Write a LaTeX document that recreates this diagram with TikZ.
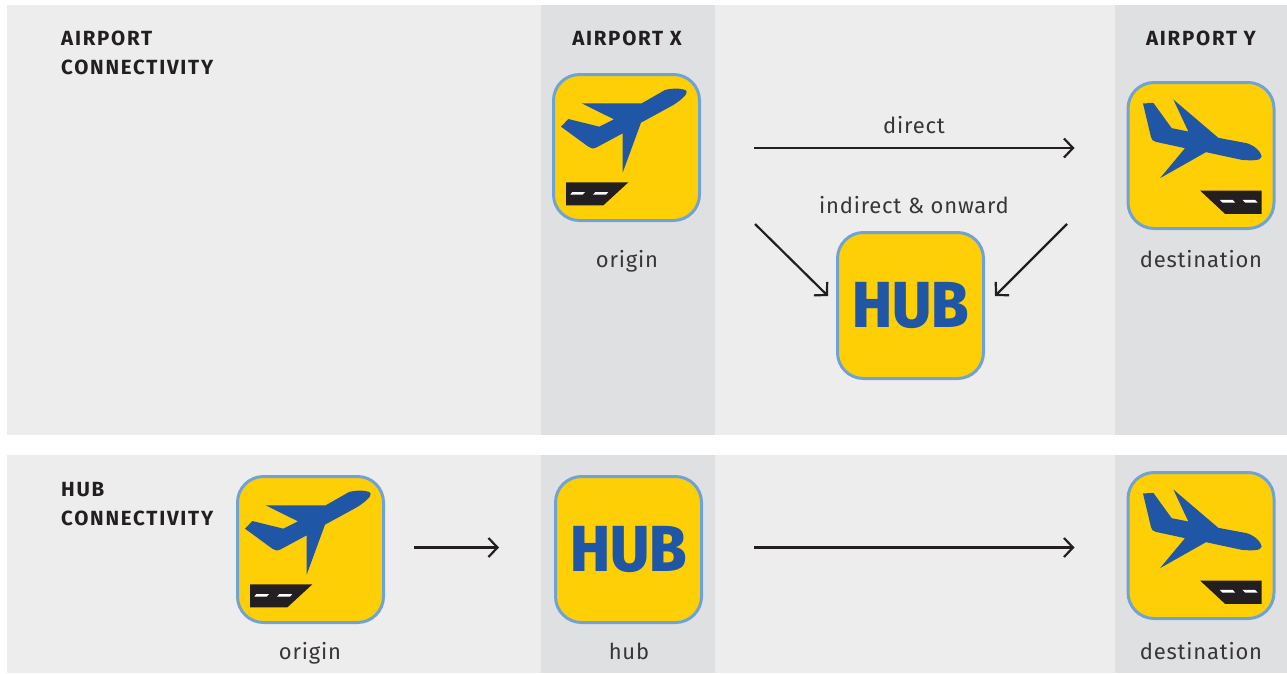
\documentclass[tikz,border=0pt]{standalone}
\usepackage{fontspec}
\setmainfont{Fira Sans}[LetterSpace=3.6]
\newfontfamily\titlefont{Fira Sans}[LetterSpace=8.5]
\newfontfamily\hubfont{Fira Sans}[UprightFont=*,BoldFont=* ExtraBold]
\usetikzlibrary{arrows.meta}
\definecolor{panel}{HTML}{EDEDED}
\definecolor{column}{HTML}{DFE0E2}
\definecolor{iconfill}{HTML}{FFCF06}
\definecolor{iconline}{HTML}{6FA3D8}
\definecolor{planeblue}{HTML}{1F56A5}
\definecolor{ink}{HTML}{231F20}
\tikzset{
  iconbox/.style={draw=iconline,fill=iconfill,line width=3pt,rounded corners=26pt,minimum size=146pt,inner sep=0pt,outer sep=0pt},
  hubicon/.style={iconbox,text=planeblue,font=\hubfont\fontsize{65}{65}\selectfont\bfseries},
  flow/.style={draw=ink,line width=2.2pt,-{Straight Barb[length=9pt,width=19pt,line width=2.2pt]}},
  title/.style={font=\titlefont\bfseries\fontsize{20.5}{29}\selectfont,text=ink,inner sep=0pt},
  caption/.style={font=\fontsize{22}{26}\selectfont,text=ink!90,inner sep=0pt,anchor=base},
  takeoff/.pic={
    \begin{scope}[x=0.33333pt,y=-0.33333pt,shift={(-259.5,-262.5)}]
      \fill[planeblue] (440,95) .. controls (438,85) and (400,83) .. (375,90) -- (305,130) -- (125,130) -- (222,178) -- (178,200) -- (85,177) -- (63,200) -- (145,260) .. controls (152,266) and (160,267) .. (170,262) -- (248,220) -- (248,338) -- (303,188) -- (400,135) .. controls (420,122) and (442,105) .. (440,95) -- cycle;
      \fill[ink] (78,367) -- (265,367) -- (190,436) -- (78,436) -- cycle;
      \fill[white] (97,396) -- (135,396) -- (128,404) -- (91,404) -- cycle;
      \fill[white] (166,396) -- (205,396) -- (198,404) -- (159,404) -- cycle;
    \end{scope}
  },
  landing/.pic={
    \begin{scope}[x=0.33333pt,y=-0.33333pt,shift={(-258,-255)}]
      \fill[planeblue] (440,258) .. controls (438,245) and (420,225) .. (395,218) -- (310,202) -- (175,87) -- (220,183) -- (170,173) -- (115,97) -- (84,99) -- (108,200) .. controls (110,208) and (114,212) .. (122,214) -- (210,233) -- (135,323) -- (273,245) -- (380,268) .. controls (405,270) and (440,272) .. (440,258) -- cycle;
      \fill[ink] (255,360) -- (440,360) -- (440,430) -- (330,430) -- cycle;
      \fill[white] (314,388) -- (353,388) -- (360,396) -- (322,396) -- cycle;
      \fill[white] (382,388) -- (420,388) -- (428,396) -- (390,396) -- cycle;
    \end{scope}
  }
}
\begin{document}
\begin{tikzpicture}[x=1pt,y=-1pt]
  \useasboundingbox (0,0) rectangle (1287,673);
  \fill[white] (0,0) rectangle (1287,673);
  \fill[panel] (7,5) rectangle (1287,434.5);
  \fill[panel] (7,454.5) rectangle (1287,673);
  \fill[column] (541,5) rectangle (715,434.5);
  \fill[column] (1115,5) rectangle (1287,434.5);
  \fill[column] (541,454.5) rectangle (715,673);
  \fill[column] (1115,454.5) rectangle (1287,673);

  \node[title,anchor=west,align=left] (t1) at (61,52.5) {AIRPORT\\CONNECTIVITY};
  \node[title,anchor=west,align=left] (t2) at (61,504.5) {HUB\\CONNECTIVITY};
  \node[title] (ax) at (627,38.5) {AIRPORT X};
  \node[title] (ay) at (1201,38.5) {AIRPORT Y};

  \node[iconbox] (x1) at (626.5,147.5) {};
  \pic at (x1.center) {takeoff};
  \node[iconbox] (y1) at (1201,155.5) {};
  \pic at (y1.center) {landing};
  \node[hubicon] (h1) at (910.5,305.5) {\scalebox{0.93}[1]{HUB}};
  \node[iconbox] (o2) at (310.5,549.5) {};
  \pic at (o2.center) {takeoff};
  \node[hubicon] (h2) at (628.5,549.5) {\scalebox{0.93}[1]{HUB}};
  \node[iconbox] (y2) at (1201,545.5) {};
  \pic at (y2.center) {landing};

  \node[caption] (c1) at (627,267.5) {origin};
  \node[caption] (c2) at (1201,267.5) {destination};
  \node[caption] (c3) at (310,659.5) {origin};
  \node[caption] (c4) at (629,659.5) {hub};
  \node[caption] (c5) at (1201,659.5) {destination};
  \node[caption] (l1) at (914,133) {direct};
  \node[caption] (l2) at (914,213) {indirect \& onward};

  \draw[flow] ([shift={(54.5pt,-0.5pt)}]x1.east) -- ([shift={(-53.5pt,7.5pt)}]y1.west);
  \draw[flow] ([shift={(55.5pt,-76.5pt)}]x1.east) -- ([shift={(-9.5pt,9.5pt)}]h1.west);
  \draw[flow] ([shift={(-61pt,-68.5pt)}]y1.west) -- ([shift={(11.5pt,9.5pt)}]h1.east);
  \draw[flow] ([shift={(30.5pt,2pt)}]o2.east) -- ([shift={(-56.5pt,2pt)}]h2.west);
  \draw[flow] ([shift={(52.5pt,2pt)}]h2.east) -- ([shift={(-53.5pt,-2pt)}]y2.west);
\end{tikzpicture}
\end{document}
